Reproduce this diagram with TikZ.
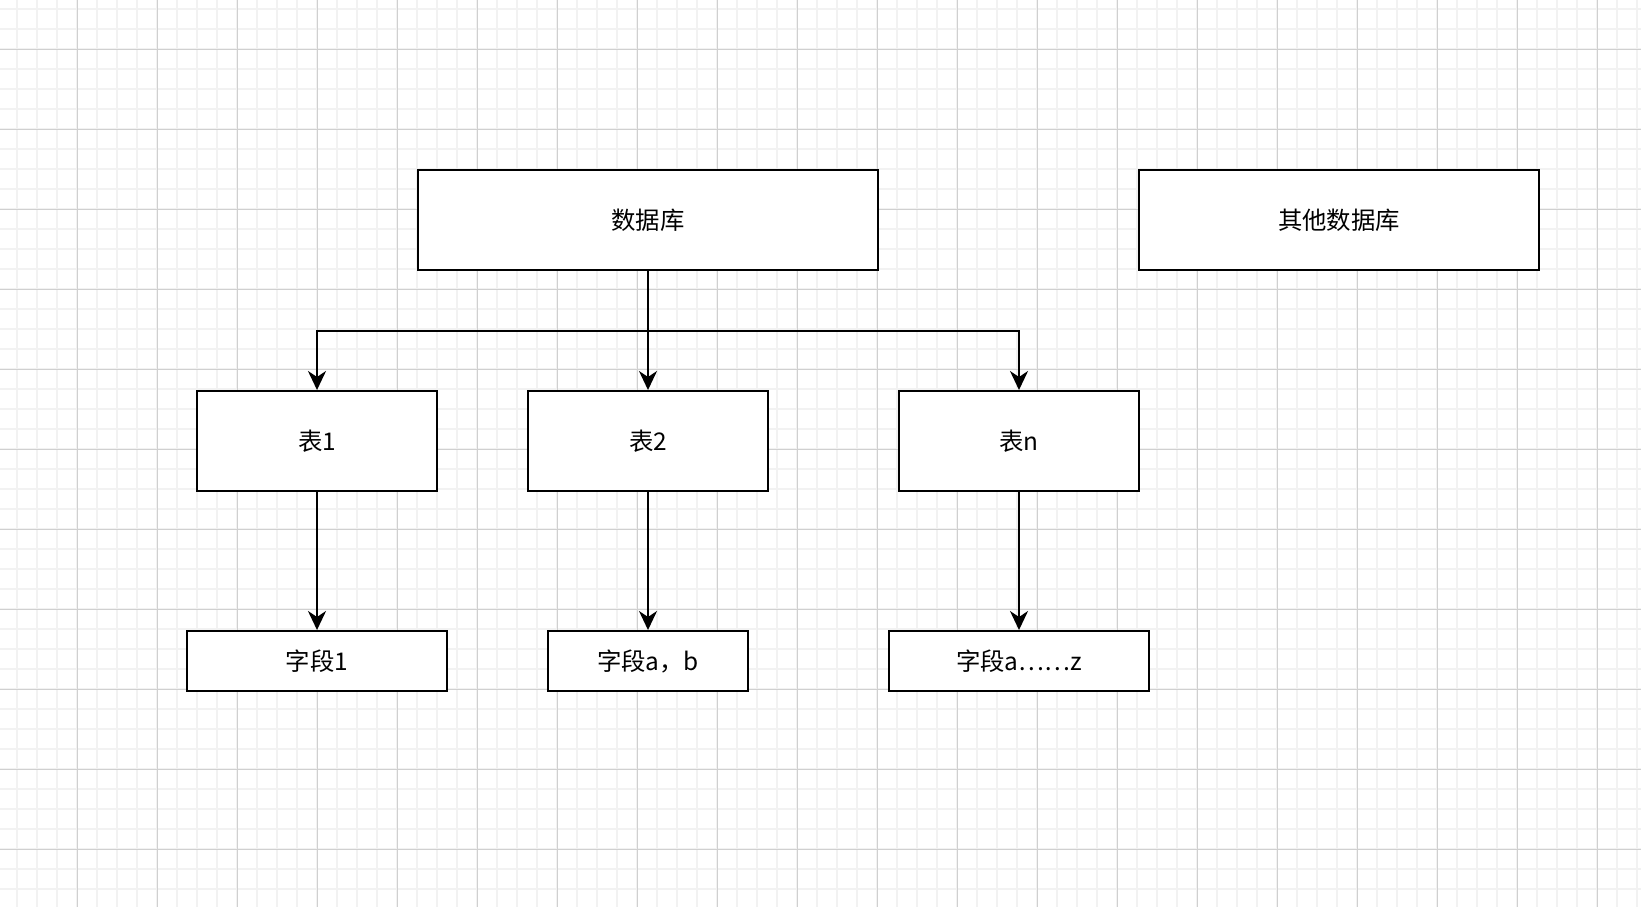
\documentclass[tikz,border=0pt]{standalone}
\usepackage{fontspec}
\newfontfamily\cjk{Noto Sans CJK SC}
\usetikzlibrary{positioning,arrows.meta}
\definecolor{gridminor}{HTML}{F2F2F2}
\definecolor{gridmajor}{HTML}{D0D0D0}
\tikzset{
  box/.style={draw, line width=1pt, fill=white, inner sep=0pt, font=\cjk\fontsize{12.2pt}{14pt}\selectfont},
  tbl/.style={box, minimum width=120pt, minimum height=50pt},
  fld/.style={box, minimum height=30pt},
  link/.style={-{Stealth[length=9.5pt,width=9pt,inset=3pt]}, line width=1pt},
}
\begin{document}
\begin{tikzpicture}[x=0.5pt, y=-0.5pt]
    \useasboundingbox (0,0) rectangle (1641,907);
    \fill[white] (0,0) rectangle (1641,907);
    \foreach \x in {17,37,...,1637} \draw[gridminor, line width=1pt] (\x,0) -- (\x,907);
    \foreach \y in {9,29,...,889} \draw[gridminor, line width=1pt] (0,\y) -- (1641,\y);
    \foreach \x in {77,157,...,1597} \draw[gridmajor, line width=0.5pt] (\x,0) -- (\x,907);
    \foreach \y in {49,129,...,849} \draw[gridmajor, line width=0.5pt] (0,\y) -- (1641,\y);

    \node[box, minimum width=230pt, minimum height=50pt] (db) at (648,220) {数据库};
    \node[box, minimum width=200pt, minimum height=50pt, right=129.5pt of db] (other) {其他数据库};
    \node[tbl, below=59.5pt of db] (t2) {表2};
    \node[tbl, left=44.5pt of t2] (t1) {表1};
    \node[tbl, right=64.5pt of t2] (tn) {表n};
    \node[fld, minimum width=130pt, below=69pt of t1] (f1) {字段1};
    \node[fld, minimum width=100pt, below=69pt of t2] (f2) {字段a，b};
    \node[fld, minimum width=130pt, below=69pt of tn] (fn) {字段a……z};

    \draw[link] (db.south) -- ++(0,60) -| (t1.north);
    \draw[link] (db.south) -- (t2.north);
    \draw[link] (db.south) -- ++(0,60) -| (tn.north);
    \draw[link] (t1) -- (f1);
    \draw[link] (t2) -- (f2);
    \draw[link] (tn) -- (fn);
\end{tikzpicture}
\end{document}
